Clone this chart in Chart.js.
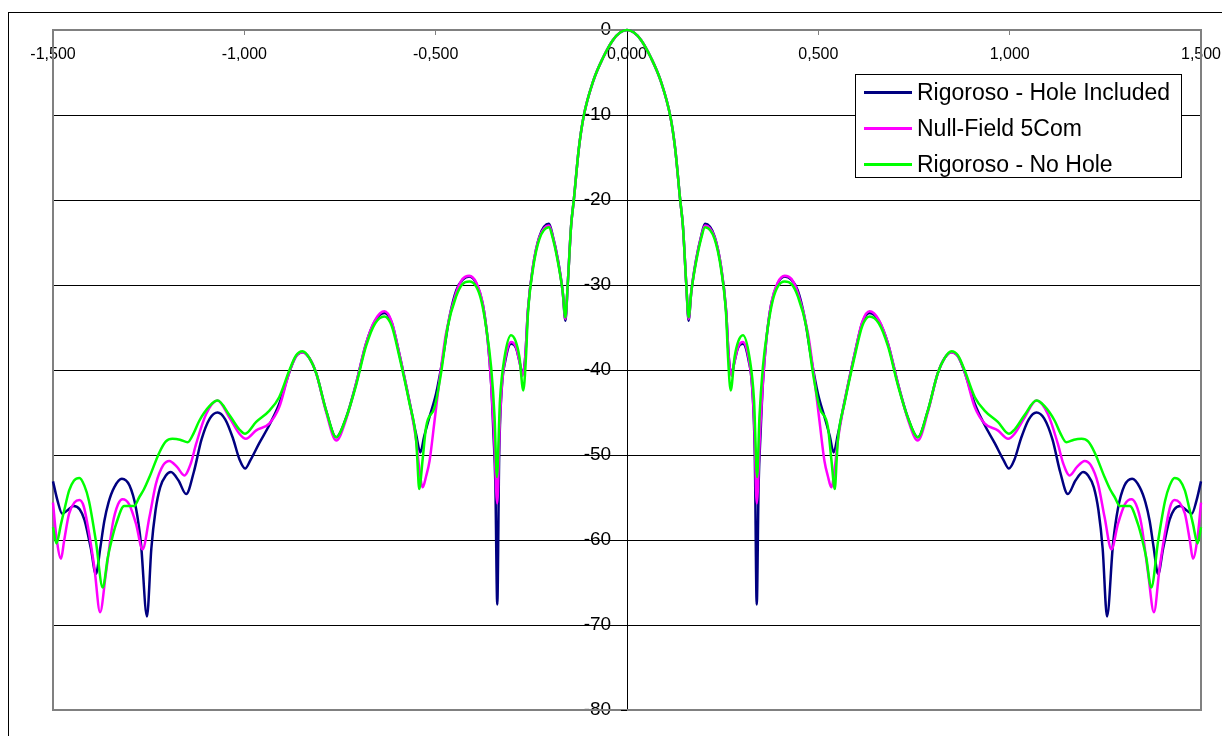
<!DOCTYPE html>
<html>
<head>
<meta charset="utf-8">
<script src="https://cdn.jsdelivr.net/npm/chart.js@4/dist/chart.umd.min.js"></script>
<style>
  html, body { margin: 0; padding: 0; background: #fff; overflow: hidden; }
  #wrap { position: relative; width: 1222px; height: 736px; }
  #frame { position: absolute; left: 8px; top: 12px; width: 1240px; height: 760px; border: 1px solid #000; box-sizing: border-box; }
  canvas { position: absolute; left: 0; top: 0; }
  #legend { position: absolute; left: 855px; top: 74px; width: 327px; height: 104px; border: 1px solid #000;
            background: #fff; box-sizing: border-box; font-family: "Liberation Sans", Arial, sans-serif; font-size: 23px; }
  .item { position: absolute; left: 0; height: 30px; line-height: 30px; white-space: nowrap; }
  .swatch { position: absolute; left: 8px; top: 14px; width: 48px; height: 3px; }
  .label { position: absolute; left: 61px; top: 0; }
</style>
</head>
<body>
<div id="wrap">
  <div id="frame"></div>
  <canvas id="chart" width="1222" height="736"></canvas>
  <div id="legend"></div>
</div>
<script>
// Far-field pattern, dB vs. x. Three runs: with hole, null-field, without hole.
const holeX = [-1.5, -1.488, -1.476, -1.462, -1.446, -1.43, -1.418, -1.401, -1.388, -1.376,
  -1.366, -1.355, -1.34, -1.32, -1.3, -1.283, -1.27, -1.2545, -1.243, -1.232,
  -1.22, -1.205, -1.192, -1.172, -1.152, -1.132, -1.112, -1.09, -1.07, -1.05,
  -1.03, -1.012, -0.998, -0.984, -0.961, -0.935, -0.909, -0.882, -0.865, -0.848,
  -0.83, -0.812, -0.786, -0.76, -0.734, -0.708, -0.682, -0.658, -0.634, -0.615,
  -0.595, -0.569, -0.551, -0.54, -0.53, -0.518, -0.499, -0.482, -0.464, -0.446,
  -0.43, -0.412, -0.394, -0.377, -0.364, -0.355, -0.349, -0.344, -0.339, -0.334,
  -0.327, -0.318, -0.303, -0.29, -0.281, -0.273, -0.266, -0.259, -0.246, -0.229,
  -0.204, -0.194, -0.181, -0.168, -0.161, -0.155, -0.146, -0.139, -0.126, -0.113,
  -0.089, -0.063, -0.037, -0.018, 0,
  0.018, 0.037, 0.063, 0.089,
  0.113, 0.126, 0.139, 0.146, 0.155, 0.161, 0.168, 0.181, 0.194, 0.204,
  0.229, 0.246, 0.259, 0.266, 0.273, 0.281, 0.29, 0.303, 0.318, 0.327,
  0.334, 0.339, 0.344, 0.349, 0.355, 0.364, 0.377, 0.394, 0.412, 0.43,
  0.446, 0.464, 0.482, 0.499, 0.518, 0.53, 0.54, 0.551, 0.569, 0.595,
  0.615, 0.634, 0.658, 0.682, 0.708, 0.734, 0.76, 0.786, 0.812, 0.83,
  0.848, 0.865, 0.882, 0.909, 0.935, 0.961, 0.984, 0.998, 1.012, 1.03,
  1.05, 1.07, 1.09, 1.112, 1.132, 1.152, 1.172, 1.192, 1.205, 1.22,
  1.232, 1.243, 1.2545, 1.27, 1.283, 1.3, 1.32, 1.34, 1.355, 1.366,
  1.376, 1.388, 1.401, 1.418, 1.43, 1.446, 1.462, 1.476, 1.488, 1.5];
const holeY = [-53.1, -55.4, -56.9, -56.5, -56.0, -56.4, -57.6, -61.0, -64.0, -60.8,
  -57.8, -55.6, -53.8, -52.8, -53.6, -56.3, -60.5, -69.0, -61.0, -56.5,
  -53.8, -52.4, -52.0, -53.0, -54.6, -52.0, -48.2, -45.7, -45.0, -45.8,
  -48.0, -50.6, -51.6, -50.6, -48.6, -46.5, -44.0, -40.2, -38.4, -37.9,
  -38.6, -40.4, -44.8, -47.9, -45.6, -41.6, -36.9, -34.2, -33.3, -34.4,
  -38.1, -43.6, -47.6, -49.7, -47.8, -45.8, -42.8, -38.8, -33.8, -30.6,
  -29.4, -29.0, -29.8, -32.2, -36.5, -41.6, -47.5, -53.4, -67.6, -50.0,
  -42.0, -38.9, -36.9, -37.4, -39.0, -40.5, -38.5, -33.0, -27.9, -24.3,
  -22.8, -24.2, -26.9, -30.8, -34.2, -30.0, -23.0, -20.0, -14.0, -10.1,
  -6.1, -3.3, -1.2, -0.3, 0,
  -0.3, -1.2, -3.3, -6.1,
  -10.1, -14.0, -20.0, -23.0, -30.0, -34.2, -30.8, -26.9, -24.2, -22.8,
  -24.3, -27.9, -33.0, -38.5, -40.5, -39.0, -37.4, -36.9, -38.9, -42.0,
  -50.0, -67.6, -53.4, -47.5, -41.6, -36.5, -32.2, -29.8, -29.0, -29.4,
  -30.6, -33.8, -38.8, -42.8, -45.8, -47.8, -49.7, -47.6, -43.6, -38.1,
  -34.4, -33.3, -34.2, -36.9, -41.6, -45.6, -47.9, -44.8, -40.4, -38.6,
  -37.9, -38.4, -40.2, -44.0, -46.5, -48.6, -50.6, -51.6, -50.6, -48.0,
  -45.8, -45.0, -45.7, -48.2, -52.0, -54.6, -53.0, -52.0, -52.4, -53.8,
  -56.5, -61.0, -69.0, -60.5, -56.3, -53.6, -52.8, -53.8, -55.6, -57.8,
  -60.8, -64.0, -61.0, -57.6, -56.4, -56.0, -56.5, -56.9, -55.4, -53.1];

const nullX = [-1.5, -1.492, -1.479, -1.471, -1.458, -1.444, -1.431, -1.42, -1.41, -1.392,
  -1.377, -1.362, -1.344, -1.33, -1.318, -1.301, -1.283, -1.266, -1.248, -1.231,
  -1.212, -1.196, -1.176, -1.157, -1.14, -1.126, -1.1, -1.07, -1.039, -1.013,
  -0.996, -0.969, -0.935, -0.909, -0.882, -0.865, -0.848, -0.83, -0.812, -0.786,
  -0.76, -0.734, -0.708, -0.682, -0.658, -0.634, -0.615, -0.595, -0.569, -0.551,
  -0.543, -0.534, -0.525, -0.516, -0.503, -0.49, -0.473, -0.447, -0.43, -0.412,
  -0.394, -0.377, -0.364, -0.355, -0.348, -0.339, -0.333, -0.327, -0.318, -0.303,
  -0.29, -0.281, -0.273, -0.266, -0.259, -0.246, -0.229, -0.204, -0.194, -0.181,
  -0.168, -0.161, -0.155, -0.146, -0.139, -0.126, -0.113, -0.089, -0.063, -0.037,
  -0.018, 0, 0.018,
  0.037, 0.063, 0.089, 0.113, 0.126, 0.139, 0.146, 0.155, 0.161, 0.168,
  0.181, 0.194, 0.204, 0.229, 0.246, 0.259, 0.266, 0.273, 0.281, 0.29,
  0.303, 0.318, 0.327, 0.333, 0.339, 0.348, 0.355, 0.364, 0.377, 0.394,
  0.412, 0.43, 0.447, 0.473, 0.49, 0.503, 0.516, 0.525, 0.534, 0.543,
  0.551, 0.569, 0.595, 0.615, 0.634, 0.658, 0.682, 0.708, 0.734, 0.76,
  0.786, 0.812, 0.83, 0.848, 0.865, 0.882, 0.909, 0.935, 0.969, 0.996,
  1.013, 1.039, 1.07, 1.1, 1.126, 1.14, 1.157, 1.176, 1.196, 1.212,
  1.231, 1.248, 1.266, 1.283, 1.301, 1.318, 1.33, 1.344, 1.362, 1.377,
  1.392, 1.41, 1.42, 1.431, 1.444, 1.458, 1.471, 1.479, 1.492, 1.5];
const nullY = [-55.6, -59.3, -62.2, -60.1, -56.9, -55.6, -55.3, -56.0, -58.1, -63.2,
  -68.5, -64.0, -58.1, -55.8, -55.2, -55.8, -58.1, -61.1, -57.3, -53.4,
  -51.2, -50.7, -51.4, -52.4, -51.0, -48.7, -45.2, -43.6, -45.6, -47.5,
  -48.1, -47.1, -46.3, -44.4, -40.2, -38.4, -37.9, -38.6, -40.4, -45.0,
  -48.3, -45.8, -41.6, -36.9, -34.1, -33.1, -34.3, -38.1, -43.6, -48.3,
  -51.5, -53.8, -52.5, -50.7, -46.0, -41.2, -35.7, -31.0, -29.3, -28.9,
  -29.7, -32.2, -36.5, -41.6, -47.0, -55.7, -47.0, -41.8, -38.6, -36.7,
  -37.3, -39.0, -40.7, -38.5, -33.0, -27.9, -24.4, -23.0, -24.3, -27.0,
  -30.8, -34.0, -30.0, -23.0, -20.0, -14.0, -10.1, -6.1, -3.3, -1.2,
  -0.3, 0, -0.3,
  -1.2, -3.3, -6.1, -10.1, -14.0, -20.0, -23.0, -30.0, -34.0, -30.8,
  -27.0, -24.3, -23.0, -24.4, -27.9, -33.0, -38.5, -40.7, -39.0, -37.3,
  -36.7, -38.6, -41.8, -47.0, -55.7, -47.0, -41.6, -36.5, -32.2, -29.7,
  -28.9, -29.3, -31.0, -35.7, -41.2, -46.0, -50.7, -52.5, -53.8, -51.5,
  -48.3, -43.6, -38.1, -34.3, -33.1, -34.1, -36.9, -41.6, -45.8, -48.3,
  -45.0, -40.4, -38.6, -37.9, -38.4, -40.2, -44.4, -46.3, -47.1, -48.1,
  -47.5, -45.6, -43.6, -45.2, -48.7, -51.0, -52.4, -51.4, -50.7, -51.2,
  -53.4, -57.3, -61.1, -58.1, -55.8, -55.2, -55.8, -58.1, -64.0, -68.5,
  -63.2, -58.1, -56.0, -55.3, -55.6, -56.9, -60.1, -62.2, -59.3, -55.6];

const noHoleX = [-1.5, -1.491, -1.479, -1.468, -1.458, -1.445, -1.431, -1.418, -1.406, -1.388,
  -1.37, -1.357, -1.345, -1.335, -1.314, -1.288, -1.275, -1.262, -1.248, -1.222,
  -1.205, -1.188, -1.168, -1.148, -1.132, -1.118, -1.09, -1.07, -1.039, -1.013,
  -0.998, -0.969, -0.935, -0.909, -0.882, -0.865, -0.848, -0.83, -0.812, -0.786,
  -0.76, -0.734, -0.708, -0.682, -0.658, -0.634, -0.615, -0.595, -0.569, -0.551,
  -0.548, -0.543, -0.534, -0.525, -0.503, -0.486, -0.469, -0.447, -0.43, -0.412,
  -0.394, -0.381, -0.368, -0.355, -0.346, -0.34, -0.332, -0.32, -0.303, -0.291,
  -0.281, -0.271, -0.264, -0.259, -0.246, -0.229, -0.204, -0.194, -0.181, -0.168,
  -0.161, -0.155, -0.146, -0.139, -0.126, -0.113, -0.089, -0.063, -0.037, -0.018,
  0,
  0.018, 0.037, 0.063, 0.089, 0.113, 0.126, 0.139, 0.146, 0.155, 0.161,
  0.168, 0.181, 0.194, 0.204, 0.229, 0.246, 0.259, 0.264, 0.271, 0.281,
  0.291, 0.303, 0.32, 0.332, 0.34, 0.346, 0.355, 0.368, 0.381, 0.394,
  0.412, 0.43, 0.447, 0.469, 0.486, 0.503, 0.525, 0.534, 0.543, 0.548,
  0.551, 0.569, 0.595, 0.615, 0.634, 0.658, 0.682, 0.708, 0.734, 0.76,
  0.786, 0.812, 0.83, 0.848, 0.865, 0.882, 0.909, 0.935, 0.969, 0.998,
  1.013, 1.039, 1.07, 1.09, 1.118, 1.132, 1.148, 1.168, 1.188, 1.205,
  1.222, 1.248, 1.262, 1.275, 1.288, 1.314, 1.335, 1.345, 1.357, 1.37,
  1.388, 1.406, 1.418, 1.431, 1.445, 1.458, 1.468, 1.479, 1.491, 1.5];
const noHoleY = [-58.5, -60.4, -58.1, -56.0, -54.2, -53.0, -52.7, -53.6, -55.4, -60.1,
  -65.6, -62.1, -59.7, -58.1, -56.0, -56.0, -55.0, -54.0, -52.6, -49.7,
  -48.4, -48.1, -48.2, -48.5, -47.4, -46.0, -44.2, -43.6, -45.3, -47.0,
  -47.5, -46.1, -44.8, -43.2, -40.0, -38.3, -37.8, -38.6, -40.4, -44.8,
  -47.9, -45.6, -41.8, -37.2, -34.5, -33.7, -34.8, -38.4, -43.8, -48.3,
  -50.5, -54.0, -50.5, -46.7, -44.4, -40.4, -35.0, -31.4, -29.9, -29.6,
  -30.2, -31.8, -35.0, -39.7, -45.6, -52.6, -43.6, -38.5, -35.9, -36.6,
  -38.5, -42.4, -38.5, -33.5, -28.2, -24.6, -23.2, -24.5, -27.2, -30.8,
  -33.8, -30.0, -23.0, -20.0, -14.0, -10.1, -6.1, -3.3, -1.2, -0.3,
  0,
  -0.3, -1.2, -3.3, -6.1, -10.1, -14.0, -20.0, -23.0, -30.0, -33.8,
  -30.8, -27.2, -24.5, -23.2, -24.6, -28.2, -33.5, -38.5, -42.4, -38.5,
  -36.6, -35.9, -38.5, -43.6, -52.6, -45.6, -39.7, -35.0, -31.8, -30.2,
  -29.6, -29.9, -31.4, -35.0, -40.4, -44.4, -46.7, -50.5, -54.0, -50.5,
  -48.3, -43.8, -38.4, -34.8, -33.7, -34.5, -37.2, -41.8, -45.6, -47.9,
  -44.8, -40.4, -38.6, -37.8, -38.3, -40.0, -43.2, -44.8, -46.1, -47.5,
  -47.0, -45.3, -43.6, -44.2, -46.0, -47.4, -48.5, -48.2, -48.1, -48.4,
  -49.7, -52.6, -54.0, -55.0, -56.0, -56.0, -58.1, -59.7, -62.1, -65.6,
  -60.1, -55.4, -53.6, -52.7, -53.0, -54.2, -56.0, -58.1, -60.4, -58.5];

const seriesNames = ['Rigoroso - Hole Included', 'Null-Field 5Com', 'Rigoroso - No Hole'];
const seriesColors = ['#000080', '#ff00ff', '#00ff00'];

const FONT = '"Liberation Sans", Arial, sans-serif';
const pts = (xs, ys) => xs.map((x, i) => ({ x, y: ys[i] }));
const fmtX = (v) => v.toFixed(3).replace('.', ',');
// labels of an axis placed at x=0 are drawn flush on it; the trailing gap keeps them off the line
const fmtY = (v) => String(v) + '\u2007 ';

// grey frame round the plot area, under the curves
const plotFrame = {
  id: 'plotFrame',
  beforeDatasetsDraw(chart) {
    const { ctx, chartArea: a } = chart;
    ctx.save();
    ctx.strokeStyle = '#808080';
    ctx.lineWidth = 2;
    ctx.strokeRect(a.left, a.top, a.right - a.left, a.bottom - a.top);
    // small black tick of the y axis over the bottom frame line
    const x0 = chart.scales.x.getPixelForValue(0);
    ctx.strokeStyle = '#000';
    ctx.lineWidth = 1;
    ctx.beginPath();
    ctx.moveTo(x0 - 6, a.bottom + 0.5);
    ctx.lineTo(x0, a.bottom + 0.5);
    ctx.stroke();
    ctx.restore();
  }
};

const series = [pts(holeX, holeY), pts(nullX, nullY), pts(noHoleX, noHoleY)];
// first dataset is drawn on top, so list them in reverse: green over magenta over blue
const datasets = [2, 1, 0].map(i => ({
  label: seriesNames[i],
  data: series[i],
  borderColor: seriesColors[i],
  backgroundColor: seriesColors[i],
  borderWidth: 2.5,
  pointRadius: 0,
  showLine: true,
  cubicInterpolationMode: 'monotone',
  clip: 6,
}));

new Chart(document.getElementById('chart'), {
  type: 'scatter',
  data: { datasets },
  options: {
    responsive: false,
    devicePixelRatio: 1,
    animation: false,
    layout: { padding: { left: 53, top: 30, right: 21, bottom: 26 } },
    plugins: { legend: { display: false }, tooltip: { enabled: false } },
    scales: {
      x: {
        type: 'linear', min: -1.5, max: 1.5,
        position: { y: 0 },
        grid: { drawOnChartArea: false, tickLength: 4, color: '#808080' },
        border: { color: '#808080', width: 2 },
        ticks: { stepSize: 0.5, padding: 11, color: '#000', maxRotation: 0, autoSkip: false,
                 font: { family: FONT, size: 16 }, callback: fmtX },
        // end labels may hang over the frame, don't let them shrink the plot
        afterFit(scale) { scale.paddingLeft = 0; scale.paddingRight = 0; },
      },
      y: {
        type: 'linear', min: -80, max: 0,
        position: { x: 0 },
        grid: { color: '#000', lineWidth: 1, tickLength: 6 },
        border: { color: '#000', width: 1 },
        ticks: { stepSize: 10, color: '#000', font: { family: FONT, size: 19 }, callback: fmtY },
      },
    },
  },
  plugins: [plotFrame],
});

// legend box
const legend = document.getElementById('legend');
seriesNames.forEach((name, i) => {
  const row = document.createElement('div');
  row.className = 'item';
  row.style.top = (2 + i * 36) + 'px';
  row.innerHTML = `<span class="swatch" style="background:${seriesColors[i]}"></span><span class="label">${name}</span>`;
  legend.appendChild(row);
});
</script>
</body>
</html>
